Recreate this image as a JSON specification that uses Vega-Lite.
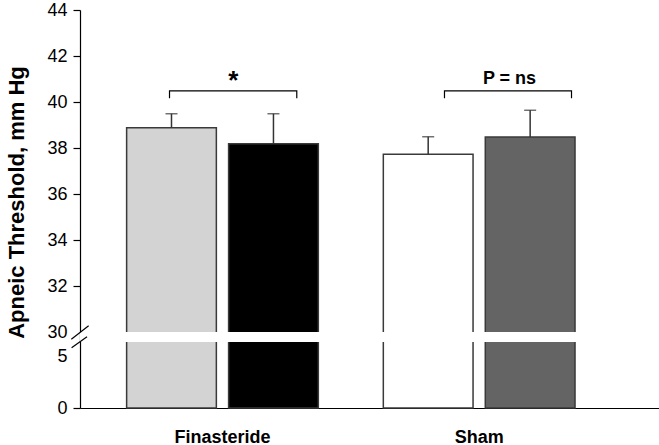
{
  "$schema": "https://vega.github.io/schema/vega-lite/v6.json",
  "width": 579,
  "height": 398,
  "autosize": "none",
  "padding": {"left": 80, "top": 10, "right": 0, "bottom": 37},
  "background": "white",
  "config": {"view": {"stroke": null}, "font": "Liberation Sans"},
  "datasets": {
    "bars": [
      {"group": "Finasteride", "sub": "a", "bar": "Finasteride A", "mean": 38.88, "upper": 39.49},
      {"group": "Finasteride", "sub": "b", "bar": "Finasteride B", "mean": 38.19, "upper": 39.49},
      {"group": "Sham", "sub": "a", "bar": "Sham A", "mean": 37.73, "upper": 38.49},
      {"group": "Sham", "sub": "b", "bar": "Sham B", "mean": 38.48, "upper": 39.64}
    ],
    "brackets": [
      {"id": "F", "px": 0.1546, "py": 40.16, "ord": 0},
      {"id": "F", "px": 0.1546, "py": 40.48, "ord": 1},
      {"id": "F", "px": 0.3744, "py": 40.48, "ord": 2},
      {"id": "F", "px": 0.3744, "py": 40.16, "ord": 3},
      {"id": "S", "px": 0.6295, "py": 40.16, "ord": 0},
      {"id": "S", "px": 0.6295, "py": 40.48, "ord": 1},
      {"id": "S", "px": 0.8489, "py": 40.48, "ord": 2},
      {"id": "S", "px": 0.8489, "py": 40.16, "ord": 3}
    ],
    "labels": [
      {"tx": 0.265, "ty": 40.55, "label": "*", "kind": "star"},
      {"tx": 0.7418, "ty": 40.78, "label": "P = ns", "kind": "p"}
    ],
    "slashes": [
      {"x1": -0.015, "y1": 22.4, "x2": 0.0149, "y2": 30.27},
      {"x1": -0.0145, "y1": 13.65, "x2": 0.0121, "y2": 25.1}
    ],
    "breaks": [{"gap": 24.8}]
  },
  "layer": [
    {
      "data": {"name": "bars"},
      "encoding": {
        "x": {
          "field": "group",
          "type": "nominal",
          "scale": {"paddingInner": 0.2532, "paddingOuter": 0.2544, "align": 0.357},
          "axis": {
            "title": null,
            "labelAngle": 0,
            "labelFontSize": 18,
            "labelFontWeight": "bold",
            "labelColor": "black",
            "ticks": false,
            "tickSize": 0,
            "labelPadding": 20,
            "domainColor": "black",
            "domainWidth": 1.2
          }
        },
        "xOffset": {"field": "sub", "type": "nominal", "scale": {"paddingInner": 0.12, "paddingOuter": 0}}
      },
      "layer": [
        {
          "mark": {"type": "bar", "stroke": "#3a3a3a", "strokeWidth": 1.5},
          "encoding": {
            "y": {
              "field": "mean",
              "type": "quantitative",
              "scale": {"domain": [0, 5, 30, 44], "range": [398, 346, 322, 0], "nice": false, "zero": false},
              "axis": {
                "values": [0, 5, 30, 32, 34, 36, 38, 40, 42, 44],
                "format": "d",
                "title": "Apneic Threshold, mm Hg",
                "titleFontSize": 22,
                "titleFontWeight": "bold",
                "titleColor": "black",
                "titleX": -64,
                "titleY": 192,
                "titleAngle": -90,
                "titleBaseline": "middle",
                "titleAlign": "center",
                "labelFontSize": 18,
                "labelColor": "black",
                "labelPadding": 6,
                "labelOverlap": false,
                "tickSize": 7,
                "tickColor": "black",
                "tickWidth": 1.2,
                "tickOpacity": {"condition": {"test": "datum.value == 5 || datum.value == 30", "value": 0}, "value": 1},
                "domainColor": "black",
                "domainWidth": 1.2,
                "grid": false
              }
            },
            "color": {
              "field": "bar",
              "type": "nominal",
              "scale": {"domain": ["Finasteride A", "Finasteride B", "Sham A", "Sham B"], "range": ["#d3d3d3", "#000000", "#ffffff", "#646464"]},
              "legend": null
            }
          }
        },
        {
          "mark": {"type": "rule", "color": "#333333", "strokeWidth": 1.5},
          "encoding": {
            "y": {"field": "mean", "type": "quantitative", "scale": {"domain": [0, 5, 30, 44], "range": [398, 346, 322, 0], "nice": false, "zero": false}},
            "y2": {"field": "upper"}
          }
        },
        {
          "mark": {"type": "tick", "color": "#333333", "thickness": 1.5, "size": 12},
          "encoding": {
            "y": {"field": "upper", "type": "quantitative", "scale": {"domain": [0, 5, 30, 44], "range": [398, 346, 322, 0], "nice": false, "zero": false}}
          }
        }
      ]
    },
    {
      "layer": [
        {
          "data": {"name": "breaks"},
          "mark": {"type": "rule", "color": "white", "strokeWidth": 10},
          "encoding": {
            "y": {"field": "gap", "type": "quantitative", "scale": {"domain": [0, 5, 30, 44], "range": [398, 346, 322, 0], "nice": false, "zero": false}}
          }
        },
        {
          "data": {"name": "slashes"},
          "mark": {"type": "rule", "color": "black", "strokeWidth": 1.2},
          "encoding": {
            "x": {"field": "x1", "type": "quantitative", "scale": {"domain": [0, 1], "nice": false, "zero": false}, "axis": null},
            "x2": {"field": "x2"},
            "y": {"field": "y1", "type": "quantitative", "scale": {"domain": [0, 5, 30, 44], "range": [398, 346, 322, 0], "nice": false, "zero": false}},
            "y2": {"field": "y2"}
          }
        },
        {
          "data": {"name": "brackets"},
          "mark": {"type": "line", "color": "black", "strokeWidth": 1.2},
          "encoding": {
            "x": {"field": "px", "type": "quantitative", "scale": {"domain": [0, 1], "nice": false, "zero": false}, "axis": null},
            "y": {"field": "py", "type": "quantitative", "scale": {"domain": [0, 5, 30, 44], "range": [398, 346, 322, 0], "nice": false, "zero": false}},
            "detail": {"field": "id"},
            "order": {"field": "ord"}
          }
        },
        {
          "data": {"name": "labels"},
          "transform": [{"filter": "datum.kind == 'p'"}],
          "mark": {"type": "text", "fontWeight": "bold", "fontSize": 18, "baseline": "alphabetic", "align": "center", "color": "black"},
          "encoding": {
            "x": {"field": "tx", "type": "quantitative", "scale": {"domain": [0, 1], "nice": false, "zero": false}, "axis": null},
            "y": {"field": "ty", "type": "quantitative", "scale": {"domain": [0, 5, 30, 44], "range": [398, 346, 322, 0], "nice": false, "zero": false}},
            "text": {"field": "label"}
          }
        },
        {
          "data": {"name": "labels"},
          "transform": [{"filter": "datum.kind == 'star'"}],
          "mark": {"type": "text", "fontWeight": "bold", "fontSize": 26, "baseline": "alphabetic", "align": "center", "color": "black"},
          "encoding": {
            "x": {"field": "tx", "type": "quantitative", "scale": {"domain": [0, 1], "nice": false, "zero": false}, "axis": null},
            "y": {"field": "ty", "type": "quantitative", "scale": {"domain": [0, 5, 30, 44], "range": [398, 346, 322, 0], "nice": false, "zero": false}},
            "text": {"field": "label"}
          }
        }
      ]
    }
  ],
  "resolve": {"scale": {"x": "independent"}}
}
